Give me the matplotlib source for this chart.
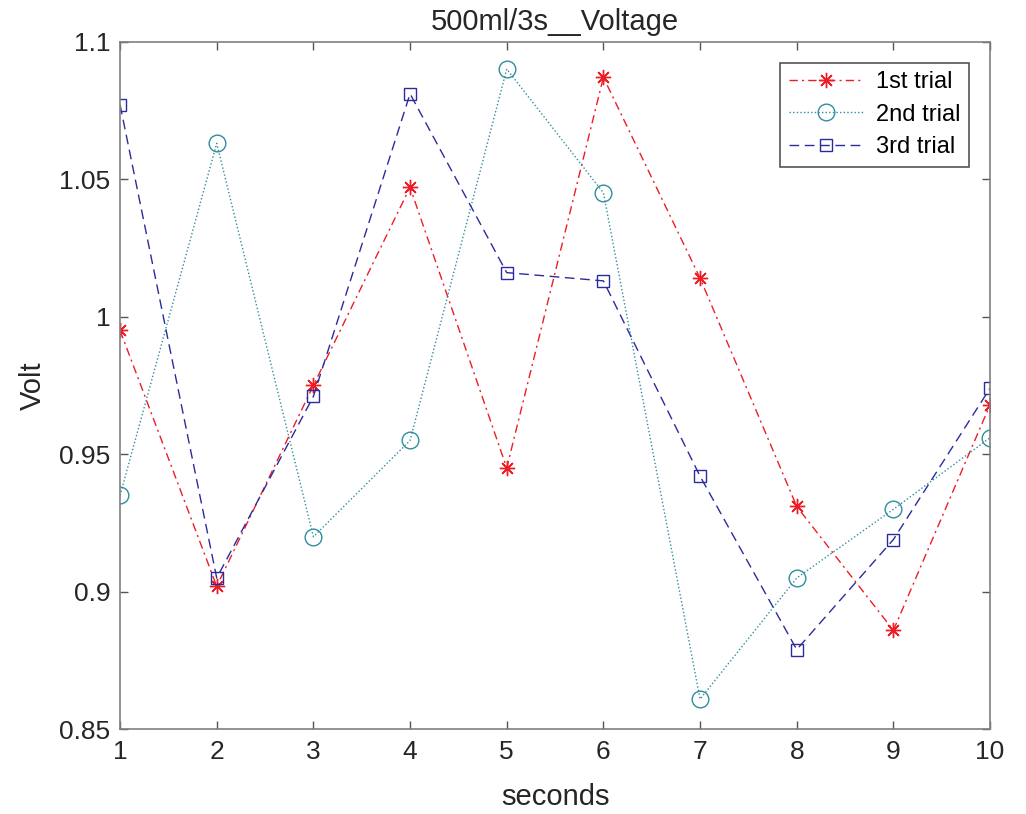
import matplotlib
matplotlib.use("Agg")
import matplotlib.pyplot as plt
from matplotlib.ticker import FuncFormatter

plt.rcParams['font.family'] = ['Liberation Sans', 'DejaVu Sans']

seconds = [1, 2, 3, 4, 5, 6, 7, 8, 9, 10]
trial1 = [0.995, 0.902, 0.975, 1.047, 0.945, 1.087, 1.014, 0.931, 0.886, 0.968]
trial2 = [0.935, 1.063, 0.920, 0.955, 1.090, 1.045, 0.861, 0.905, 0.930, 0.956]
trial3 = [1.077, 0.905, 0.971, 1.081, 1.016, 1.013, 0.942, 0.879, 0.919, 0.974]
labels = ['1st trial', '2nd trial', '3rd trial']
xticks = [1, 2, 3, 4, 5, 6, 7, 8, 9, 10]
yticks = [0.85, 0.9, 0.95, 1.0, 1.05, 1.1]

fig = plt.figure(figsize=(10.26, 8.14), dpi=100)
ax = fig.add_axes([0.117, 0.104, 0.848, 0.845])

ax.plot(seconds, trial1, linestyle=(0, (6, 3, 1.5, 3)), color='#ee1c24',
        marker=(8, 2, 0), markersize=11, markeredgewidth=1.0, linewidth=1.0,
        label=labels[0])
ax.plot(seconds, trial2, linestyle=(0, (1, 1.6)), color='#2f8e9e', marker='o',
        markersize=12, markerfacecolor='none', markeredgewidth=1.0,
        linewidth=1.0, label=labels[1])
ax.plot(seconds, trial3, linestyle=(0, (7, 4)), color='#2b2b9e', marker='s',
        markersize=8.5, markerfacecolor='none', markeredgewidth=1.0,
        linewidth=1.0, label=labels[2])

ax.set_xlim(1, 10)
ax.set_ylim(0.85, 1.1)
ax.set_xticks(xticks)
ax.set_yticks(yticks)
ax.yaxis.set_major_formatter(FuncFormatter(lambda v, p: ('%g' % round(v, 3))))

axis_color = '#262626'
for s in ax.spines.values():
    s.set_color('#808080')
    s.set_linewidth(1.2)
ax.tick_params(direction='in', top=True, right=True, length=6, width=1.0,
               colors='#555555', labelcolor=axis_color, labelsize=19)
ax.tick_params(axis='y', pad=7)
ax.tick_params(axis='x', pad=8)

ax.set_xlabel('seconds', fontsize=21, color=axis_color, labelpad=13)
ax.set_ylabel('Volt', fontsize=21, color=axis_color, labelpad=9)
ax.set_title('500ml/3s__Voltage', fontsize=21, color=axis_color, pad=8)

leg = ax.legend(loc='upper right', fontsize=17, fancybox=False,
                framealpha=1, edgecolor='#555555', handlelength=3.2,
                borderaxespad=0.9, handletextpad=0.5, labelspacing=0.45,
                borderpad=0.35)
leg.get_frame().set_linewidth(1.2)

fig.savefig('out.png', dpi=100, facecolor='white')
